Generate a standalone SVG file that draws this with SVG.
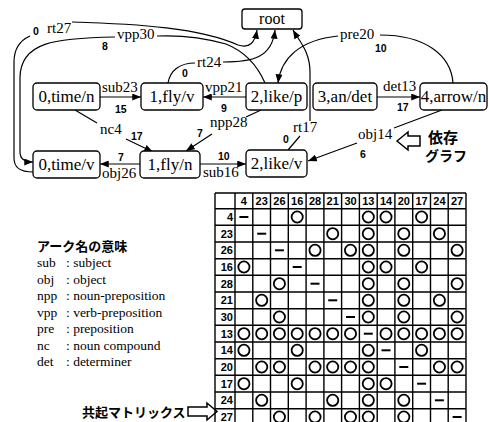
<svg xmlns="http://www.w3.org/2000/svg" width="489" height="422" viewBox="0 0 489 422">
<style>
.n rect{fill:#fff;stroke:#000;stroke-width:1.3}
.n text{font-family:"Liberation Serif",serif;font-size:17px;text-anchor:middle;fill:#000}
.e{fill:none;stroke:#000;stroke-width:1.2}
.l{font-family:"Liberation Serif",serif;font-size:15px;fill:#000}
.w{font-family:"Liberation Sans",sans-serif;font-weight:bold;font-size:10.5px;fill:#000}
.jp{font-family:"Noto Sans CJK JP",sans-serif;font-weight:bold;fill:#000}
.lg{font-family:"Liberation Serif",serif;font-size:13.5px;fill:#000}
.ha{fill:#fff;stroke:#000;stroke-width:1.5;stroke-linejoin:miter}
.grid{fill:none;stroke:#000;stroke-width:1.4}
.m text{font-family:"Liberation Sans",sans-serif;font-weight:bold;font-size:11px;fill:#000}
.ci{fill:none;stroke:#000;stroke-width:1.8}
.da{stroke:#000;stroke-width:2}
</style>
<defs>
<marker id="a" viewBox="0 0 10 8" refX="10" refY="4" markerWidth="9" markerHeight="7" orient="auto" markerUnits="userSpaceOnUse"><path d="M0,0 L10,4 L0,8 z" fill="#000"/></marker>
<circle id="o" r="5.6" class="ci"/>
<line id="d" x1="-4.5" y1="0" x2="4.5" y2="0" class="da"/>
</defs>
<rect width="489" height="422" fill="#fff"/>

<g id="connectors">
<path class="e" marker-end="url(#a)" d="M100,97 L141,97"/>
<path class="e" marker-end="url(#a)" d="M246,97 L203,97"/>
<path class="e" marker-end="url(#a)" d="M377,97 L420,97"/>
<path class="e" marker-end="url(#a)" d="M140,164 L100,164"/>
<path class="e" marker-end="url(#a)" d="M200,164 L246,164"/>
<path class="e" marker-end="url(#a)" d="M75,110 L97,123 M126,139 L153,152"/>
<path class="e" marker-end="url(#a)" d="M261,110 L246,117 M212,134 L186,151"/>
<path class="e" marker-end="url(#a)" d="M442,110 L394,128 M357,143 L308,161"/>
<path class="e" marker-end="url(#a)" d="M168,83 C170,71 179,63 195,63 M223,62 C252,62 272,58 275,30"/>
<path class="e" marker-end="url(#a)" d="M288,150 L300,136 M310,121 L310,72 C310,52 300,42 293,30"/>
<path class="e" marker-end="url(#a)" d="M453,83 C451,55 425,35 380,35 M338,36 C300,40 281,58 278,83"/>
<path class="e" marker-end="url(#a)" d="M33,172 C20,172 14,168 14,158 L14,62 C14,48 21,40 30,36 M72,22 C140,24 200,28 238,45 C250,49 255,42 257,30"/>
<path class="e" marker-end="url(#a)" d="M265,83 C258,67 246,52 226,44 C205,38 180,35 157,36 M115,37 C55,38 20,42 20,78 L20,152 C20,159 25,162 33,162"/>
<text class="l" x="102" y="91.5">sub23</text>
<text class="l" x="205" y="91.5">vpp21</text>
<text class="l" x="383" y="91">det13</text>
<text class="l" x="197" y="67">rt24</text>
<text class="l" x="117" y="39">vpp30</text>
<text class="l" x="47" y="33">rt27</text>
<text class="l" x="340" y="39">pre20</text>
<text class="l" x="100" y="134">nc4</text>
<text class="l" x="210" y="127">npp28</text>
<text class="l" x="102" y="178">obj26</text>
<text class="l" x="203" y="177">sub16</text>
<text class="l" x="293" y="132">rt17</text>
<text class="l" x="358" y="139">obj14</text>
<text class="w" x="115" y="113">15</text>
<text class="w" x="221" y="112">9</text>
<text class="w" x="397" y="111">17</text>
<text class="w" x="182" y="77">0</text>
<text class="w" x="102" y="50">8</text>
<text class="w" x="33" y="35">0</text>
<text class="w" x="375" y="52">10</text>
<text class="w" x="118" y="161">7</text>
<text class="w" x="218" y="160">10</text>
<text class="w" x="131" y="140">17</text>
<text class="w" x="197" y="137">7</text>
<text class="w" x="283" y="143">0</text>
<text class="w" x="360" y="158">6</text>
</g>

<g id="root" class="n"><rect x="242" y="9" width="60" height="20" rx="3"/><text x="272" y="24" style="font-size:16px">root</text></g>
<g id="n0_time_n" class="n"><rect x="33" y="83" width="67" height="27" rx="4"/><text x="66.5" y="102">0,time/n</text></g>
<g id="n1_fly_v" class="n"><rect x="141" y="83" width="62" height="27" rx="4"/><text x="172" y="102">1,fly/v</text></g>
<g id="n2_like_p" class="n"><rect x="246" y="83" width="61" height="27" rx="4"/><text x="276.5" y="102">2,like/p</text></g>
<g id="n3_an_det" class="n"><rect x="313" y="83" width="64" height="27" rx="4"/><text x="345" y="102">3,an/det</text></g>
<g id="n4_arrow_n" class="n"><rect x="420" y="83" width="67" height="27" rx="4"/><text x="453.5" y="102">4,arrow/n</text></g>
<g id="n0_time_v" class="n"><rect x="33" y="151" width="67" height="27" rx="4"/><text x="66.5" y="170">0,time/v</text></g>
<g id="n1_fly_n" class="n"><rect x="140" y="151" width="60" height="27" rx="4"/><text x="170" y="170">1,fly/n</text></g>
<g id="n2_like_v" class="n"><rect x="246" y="150" width="61" height="27" rx="4"/><text x="276.5" y="169">2,like/v</text></g>

<g id="graph-caption">
<polygon class="ha" points="397,141 408,132 408,136 420,136 420,146 408,146 408,150"/>
<text class="jp" x="428" y="143" style="font-size:15px">依存</text>
<text class="jp" x="425" y="161" style="font-size:14px">グラフ</text>
</g>

<g id="legend">
<text class="jp" x="37" y="251" style="font-size:13px">アーク名の意味</text>
<text class="lg" x="37" y="267">sub</text><text class="lg" x="66" y="267">: subject</text>
<text class="lg" x="37" y="284">obj</text><text class="lg" x="66" y="284">: object</text>
<text class="lg" x="37" y="300">npp</text><text class="lg" x="66" y="300">: noun-preposition</text>
<text class="lg" x="37" y="317">vpp</text><text class="lg" x="66" y="317">: verb-preposition</text>
<text class="lg" x="37" y="333">pre</text><text class="lg" x="66" y="333">: preposition</text>
<text class="lg" x="37" y="350">nc</text><text class="lg" x="66" y="350">: noun compound</text>
<text class="lg" x="37" y="366">det</text><text class="lg" x="66" y="366">: determiner</text>
</g>

<g id="matrix-caption">
<text class="jp" x="82" y="417" style="font-size:13px">共起マトリックス</text>
<polygon class="ha" points="188,407 207,407 207,403 217,411.5 207,420 207,416 188,416"/>
</g>

<g id="matrix" class="m">
<path class="grid" d="M215,193 V425 M235,193 V425 M252.8,193 V425 M270.5,193 V425 M288.3,193 V425 M306.1,193 V425 M323.9,193 V425 M341.6,193 V425 M359.4,193 V425 M377.2,193 V425 M394.9,193 V425 M412.7,193 V425 M430.5,193 V425 M448.2,193 V425 M466,193 V425 M215,193 H466 M215,208.7 H466 M215,225.3 H466 M215,242 H466 M215,258.7 H466 M215,275.3 H466 M215,292 H466 M215,308.7 H466 M215,325.3 H466 M215,342 H466 M215,358.7 H466 M215,375.3 H466 M215,392 H466 M215,408.7 H466"/>
<g text-anchor="middle">
<text x="243.9" y="205">4</text><text x="261.7" y="205">23</text><text x="279.4" y="205">26</text><text x="297.2" y="205">16</text><text x="315" y="205">28</text><text x="332.7" y="205">21</text><text x="350.5" y="205">30</text><text x="368.3" y="205">13</text><text x="386" y="205">14</text><text x="403.8" y="205">20</text><text x="421.6" y="205">17</text><text x="439.4" y="205">24</text><text x="457.1" y="205">27</text>
</g>
<g text-anchor="end">
<text x="233" y="221">4</text><text x="233" y="237.7">23</text><text x="233" y="254.3">26</text><text x="233" y="271">16</text><text x="233" y="287.7">28</text><text x="233" y="304.3">21</text><text x="233" y="321">30</text><text x="233" y="337.7">13</text><text x="233" y="354.3">14</text><text x="233" y="371">20</text><text x="233" y="387.7">17</text><text x="233" y="404.3">24</text><text x="233" y="421">27</text>
</g>
<!-- diagonal dashes -->
<use href="#d" x="243.9" y="217"/><use href="#d" x="261.7" y="233.7"/><use href="#d" x="279.4" y="250.3"/><use href="#d" x="297.2" y="267"/><use href="#d" x="315" y="283.7"/><use href="#d" x="332.7" y="300.3"/><use href="#d" x="350.5" y="317"/><use href="#d" x="368.3" y="333.7"/><use href="#d" x="386" y="350.3"/><use href="#d" x="403.8" y="367"/><use href="#d" x="421.6" y="383.7"/><use href="#d" x="439.4" y="400.3"/><use href="#d" x="457.1" y="417"/>
<!-- row 4 -->
<use href="#o" x="297.2" y="217"/><use href="#o" x="368.3" y="217"/><use href="#o" x="386" y="217"/><use href="#o" x="421.6" y="217"/>
<!-- row 23 -->
<use href="#o" x="332.7" y="233.7"/><use href="#o" x="368.3" y="233.7"/><use href="#o" x="403.8" y="233.7"/><use href="#o" x="439.4" y="233.7"/>
<!-- row 26 -->
<use href="#o" x="315" y="250.3"/><use href="#o" x="350.5" y="250.3"/><use href="#o" x="368.3" y="250.3"/><use href="#o" x="403.8" y="250.3"/><use href="#o" x="457.1" y="250.3"/>
<!-- row 16 -->
<use href="#o" x="243.9" y="267"/><use href="#o" x="368.3" y="267"/><use href="#o" x="386" y="267"/><use href="#o" x="421.6" y="267"/>
<!-- row 28 -->
<use href="#o" x="279.4" y="283.7"/><use href="#o" x="368.3" y="283.7"/><use href="#o" x="403.8" y="283.7"/><use href="#o" x="457.1" y="283.7"/>
<!-- row 21 -->
<use href="#o" x="261.7" y="300.3"/><use href="#o" x="368.3" y="300.3"/><use href="#o" x="403.8" y="300.3"/><use href="#o" x="439.4" y="300.3"/>
<!-- row 30 -->
<use href="#o" x="279.4" y="317"/><use href="#o" x="368.3" y="317"/><use href="#o" x="403.8" y="317"/><use href="#o" x="457.1" y="317"/>
<!-- row 13 -->
<use href="#o" x="243.9" y="333.7"/><use href="#o" x="261.7" y="333.7"/><use href="#o" x="279.4" y="333.7"/><use href="#o" x="297.2" y="333.7"/><use href="#o" x="315" y="333.7"/><use href="#o" x="332.7" y="333.7"/><use href="#o" x="350.5" y="333.7"/><use href="#o" x="386" y="333.7"/><use href="#o" x="403.8" y="333.7"/><use href="#o" x="421.6" y="333.7"/><use href="#o" x="439.4" y="333.7"/><use href="#o" x="457.1" y="333.7"/>
<!-- row 14 -->
<use href="#o" x="243.9" y="350.3"/><use href="#o" x="297.2" y="350.3"/><use href="#o" x="368.3" y="350.3"/><use href="#o" x="421.6" y="350.3"/>
<!-- row 20 -->
<use href="#o" x="261.7" y="367"/><use href="#o" x="279.4" y="367"/><use href="#o" x="315" y="367"/><use href="#o" x="332.7" y="367"/><use href="#o" x="350.5" y="367"/><use href="#o" x="368.3" y="367"/><use href="#o" x="439.4" y="367"/><use href="#o" x="457.1" y="367"/>
<!-- row 17 -->
<use href="#o" x="243.9" y="383.7"/><use href="#o" x="297.2" y="383.7"/><use href="#o" x="368.3" y="383.7"/><use href="#o" x="386" y="383.7"/>
<!-- row 24 -->
<use href="#o" x="261.7" y="400.3"/><use href="#o" x="332.7" y="400.3"/><use href="#o" x="368.3" y="400.3"/><use href="#o" x="403.8" y="400.3"/>
<!-- row 27 -->
<use href="#o" x="279.4" y="417"/><use href="#o" x="315" y="417"/><use href="#o" x="350.5" y="417"/><use href="#o" x="368.3" y="417"/><use href="#o" x="403.8" y="417"/>
</g>
</svg>
